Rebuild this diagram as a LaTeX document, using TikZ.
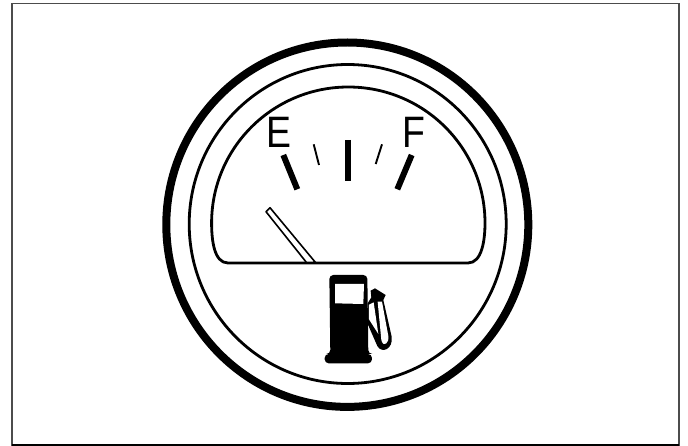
\documentclass[tikz,border=0pt]{standalone}
\usepackage{fontspec}
\setmainfont{Liberation Sans}
\tikzset{
  ink/.style={black,line cap=round,line join=round},
  bigtick/.style={ink,line width=6pt,line cap=butt},
  smalltick/.style={ink,line width=1.9pt,line cap=butt},
  ring/.style={ink,line width=2.8pt},
  scalefont/.style={inner sep=0pt,font=\fontsize{44}{44}\selectfont,xscale=0.85}
}
\begin{document}
\begin{tikzpicture}[x=1pt,y=-1pt]
\useasboundingbox (0,0) rectangle (688,446);
\fill[white] (0,0) rectangle (688,446);
\draw[black!70,line width=1.8pt] (12,3.5) rectangle (679,444.8);
\draw[black,line width=1.8pt] (12,444.8) -- (679,444.8);
% rings
\draw[ink,line width=8pt] (347.3,224.7) ellipse [x radius=181,y radius=182.2];
\draw[ring] (347.7,224) ellipse [x radius=158.5,y radius=159.5];
% dial
\draw[ring] (211.6,223) arc[start angle=180,end angle=360,x radius=136.7,y radius=136]
  .. controls (485,240) and (482,263) .. (468,263)
  -- (228,263) .. controls (214,263) and (211.6,240) .. (211.6,223) -- cycle;
% ticks
\coordinate (e1) at (283.3,155); \coordinate (e2) at (297.3,189.3);
\coordinate (s1) at (313.7,144.3); \coordinate (s2) at (319,165);
\coordinate (c1) at (347.7,140); \coordinate (c2) at (347.7,181);
\coordinate (t1) at (382,144.3); \coordinate (t2) at (375.7,164);
\coordinate (f1) at (411.7,155); \coordinate (f2) at (397.3,189.3);
\draw[bigtick] (e1) -- (e2);
\draw[smalltick] (s1) -- (s2);
\draw[bigtick] (c1) -- (c2);
\draw[smalltick] (t1) -- (t2);
\draw[bigtick] (f1) -- (f2);
% needle
\draw[ink,line width=1.6pt,fill=white] (266,211.7) -- (270,207.7) -- (315.5,262.5) -- (306.5,262.5) -- cycle;
% letters
\node[scalefont] (letterE) at (279.3,132) {E};
\node[scalefont] (letterF) at (413.5,132) {F};
% pump
\begin{scope}[shift={(300,260)},x=0.3333pt,y=-0.3333pt]
  \fill[black] (212,92) -- (225,85) -- (257,105) -- (250,120) -- (275,230)
     .. controls (280,268) and (245,282) .. (232,258) -- (203,192) -- (203,130) -- (214,112) -- cycle;
  \fill[white] (207,134) -- (221,127) -- (235,222) -- (207,178) -- cycle;
  \fill[white] (233,125) -- (246,125) -- (265,228) .. controls (268,250) and (250,264) .. (244,240) -- cycle;
  \fill[black,rounded corners=4pt] (88,45) -- (202,45) -- (205,282) -- (216,282) -- (216,310) -- (74,310) -- (74,282) -- (91,282) -- cycle;
  \fill[white] (105,72) -- (192,72) -- (190,132) -- (105,130) -- cycle;
\end{scope}
\end{tikzpicture}
\end{document}
